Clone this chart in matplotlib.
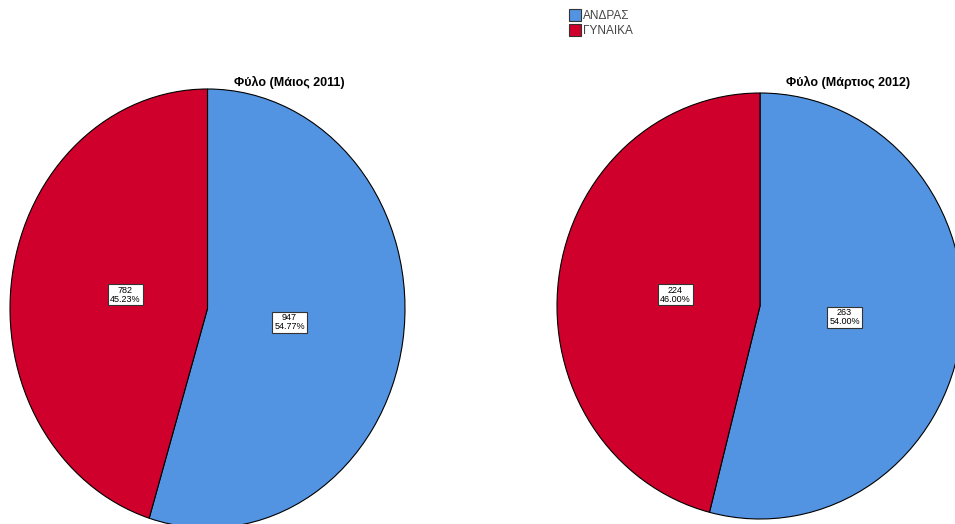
import matplotlib
matplotlib.use("Agg")
import matplotlib.pyplot as plt
from matplotlib.patches import Patch

plt.rcParams['font.family'] = ['Liberation Sans', 'DejaVu Sans']

categories = ["ΑΝΔΡΑΣ", "ΓΥΝΑΙΚΑ"]
colors = ["#5294e2", "#d0002c"]
titles = ["Φύλο (Μάιος 2011)", "Φύλο (Μάρτιος 2012)"]
counts_2011 = [947, 782]
counts_2012 = [263, 224]


def draw_pie(ax, counts):
    total = sum(counts)
    wedges, texts, autotexts = ax.pie(
        counts, colors=colors, startangle=90, counterclock=False,
        wedgeprops=dict(edgecolor="black", linewidth=0.8),
        autopct=lambda p: f"{round(p * total / 100)}\n{p:.2f}%",
        pctdistance=0.42, radius=1)
    for t in autotexts:
        t.set_fontsize(6.5)
        t.set_linespacing(0.95)
        t.set_bbox(dict(facecolor="white", edgecolor="#333333", boxstyle="square,pad=0.2", linewidth=0.8))
    ax.set_xlim(-1, 1)
    ax.set_ylim(-1, 1)
    ax.set_aspect("auto")
    ax.axis("off")


fig = plt.figure(figsize=(9.55, 5.24), dpi=100)
W, H = 955, 524

# left pie: x 10..405, y 89..528 (pixels)
ax1 = fig.add_axes([10 / W, (H - 528) / H, 395 / W, 439 / H])
draw_pie(ax1, counts_2011)
# right pie: x 557..963, y 93..519
ax2 = fig.add_axes([557 / W, (H - 519) / H, 406 / W, 426 / H])
draw_pie(ax2, counts_2012)

fig.text(289 / W, 1 - 82 / H, titles[0], ha="center", va="center", fontsize=9, fontweight="bold")
fig.text(848 / W, 1 - 82 / H, titles[1], ha="center", va="center", fontsize=9, fontweight="bold")

handles = [Patch(facecolor=c, edgecolor="#333333", linewidth=0.8) for c in colors]
leg = fig.legend(handles, categories, loc="upper left", bbox_to_anchor=(564 / W, 1 - 4 / H),
                 frameon=False, fontsize=8.5, handlelength=1.0, handleheight=1.2,
                 handletextpad=0.2, labelspacing=0.15, borderaxespad=0)
for t in leg.get_texts():
    t.set_color("#444444")

fig.savefig("out.png", dpi=100)
